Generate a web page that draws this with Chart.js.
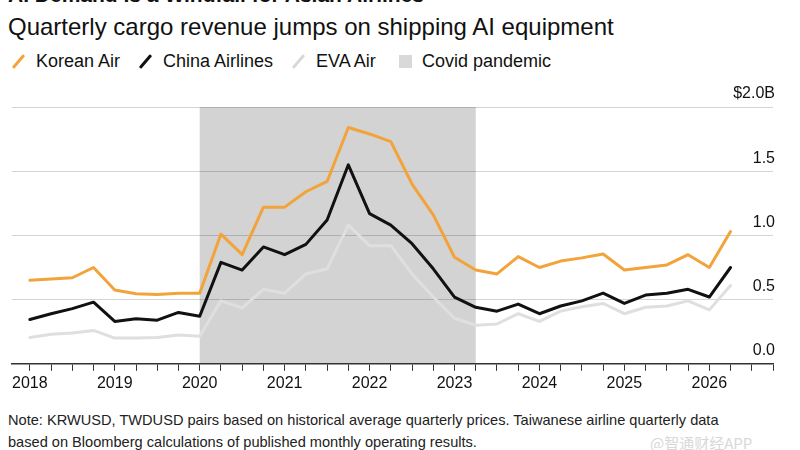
<!DOCTYPE html>
<html>
<head>
<meta charset="utf-8">
<script src="https://cdn.jsdelivr.net/npm/chart.js@4.4.1/dist/chart.umd.min.js"></script>
<style>
  html, body { margin: 0; padding: 0; background: #fff; }
  body { width: 800px; height: 450px; position: relative; overflow: hidden;
         font-family: "Liberation Sans", Arial, sans-serif; color: #111; }
  #title { position: absolute; left: 8px; top: -17px; font-size: 21px; font-weight: bold;
           line-height: 24px; white-space: nowrap; }
  #subtitle { position: absolute; left: 8px; top: 14px; font-size: 24px; line-height: 26px; white-space: nowrap; }
  .leg { position: absolute; top: 50px; font-size: 18px; line-height: 22px; white-space: nowrap; }
  .leg i { position: absolute; left: 0; top: 3px; width: 3px; height: 17px; border-radius: 1px;
           transform: rotate(41deg); transform-origin: center; }
  .leg span { position: absolute; left: 0; top: 0; }
  .leg b { position: absolute; left: 0; top: 5px; width: 13px; height: 13px; background: #d9d9d9; }
  #wrap { position: absolute; left: 0; top: 80px; width: 800px; height: 320px; }
  #note { position: absolute; left: 8px; top: 409px; font-size: 14.6px; line-height: 22px; color: #222; white-space: nowrap; }
  #mark { position: absolute; left: 650px; top: 432px; font-size: 15px; color: #d8d8d8;
          font-family: "Noto Sans CJK SC", sans-serif; }
</style>
</head>
<body>
<div id="title">AI Demand Is a Windfall for Asian Airlines</div>
<div id="subtitle">Quarterly cargo revenue jumps on shipping AI equipment</div>

<div class="leg" style="left:12px"><i style="background:#f2a33a;left:5px"></i><span style="left:24px">Korean Air</span></div>
<div class="leg" style="left:139px"><i style="background:#111;left:5px"></i><span style="left:24px">China Airlines</span></div>
<div class="leg" style="left:292px"><i style="background:#d8d8d8;left:5px"></i><span style="left:24px">EVA Air</span></div>
<div class="leg" style="left:399px"><b></b><span style="left:23px">Covid pandemic</span></div>

<div id="wrap"><canvas id="chart" width="800" height="320"></canvas></div>

<div id="note">Note: KRWUSD, TWDUSD pairs based on historical average quarterly prices. Taiwanese airline quarterly data<br>based on Bloomberg calculations of published monthly operating results.</div>
<div id="mark">@智通财经APP</div>

<script>
// DATA (quarterly cargo revenue, $B)
const quarters = [
  2018, 2018.25, 2018.5, 2018.75, 2019, 2019.25, 2019.5, 2019.75,
  2020, 2020.25, 2020.5, 2020.75, 2021, 2021.25, 2021.5, 2021.75,
  2022, 2022.25, 2022.5, 2022.75, 2023, 2023.25, 2023.5, 2023.75,
  2024, 2024.25, 2024.5, 2024.75, 2025, 2025.25, 2025.5, 2025.75,
  2026, 2026.25
];
const koreanAir = [
  0.65, 0.66, 0.67, 0.75, 0.575, 0.545, 0.54, 0.55,
  0.55, 1.01, 0.85, 1.22, 1.22, 1.34, 1.42, 1.84,
  1.79, 1.73, 1.40, 1.16, 0.83, 0.73, 0.70, 0.835,
  0.75, 0.80, 0.825, 0.855, 0.73, 0.75, 0.77, 0.85,
  0.75, 1.03
];
const chinaAirlines = [
  0.345, 0.39, 0.43, 0.48, 0.33, 0.35, 0.34, 0.40,
  0.37, 0.79, 0.73, 0.91, 0.85, 0.93, 1.12, 1.55,
  1.17, 1.08, 0.935, 0.74, 0.52, 0.44, 0.41, 0.465,
  0.39, 0.45, 0.49, 0.55, 0.47, 0.535, 0.55, 0.58,
  0.52, 0.75
];
const evaAir = [
  0.205, 0.23, 0.24, 0.26, 0.20, 0.20, 0.205, 0.225,
  0.215, 0.49, 0.435, 0.58, 0.55, 0.70, 0.74, 1.08,
  0.92, 0.92, 0.70, 0.52, 0.355, 0.30, 0.31, 0.39,
  0.33, 0.41, 0.445, 0.47, 0.39, 0.44, 0.45, 0.49,
  0.42, 0.61
];
const covidPeriod = [2020, 2023.25];
const years = [2018, 2019, 2020, 2021, 2022, 2023, 2024, 2025, 2026];
const yTicks = [0, 0.5, 1, 1.5, 2];
const yLabels = ["0.0", "0.5", "1.0", "1.5", "$2.0B"];

const toPoints = (vals) => quarters.map((q, i) => ({ x: q, y: vals[i] }));

// grey band behind the lines, drawn before grid so gridlines stay visible
const covidBand = {
  id: "covidBand",
  beforeDraw(chart) {
    const { ctx, chartArea, scales } = chart;
    const x0 = scales.x.getPixelForValue(covidPeriod[0]);
    const x1 = scales.x.getPixelForValue(covidPeriod[1]);
    ctx.save();
    ctx.fillStyle = "#d3d3d3";
    ctx.fillRect(x0, chartArea.top, x1 - x0, chartArea.bottom - chartArea.top);
    ctx.restore();
  },
};

const lineStyle = { pointRadius: 0, tension: 0, borderJoinStyle: "round", borderCapStyle: "round" };

new Chart(document.getElementById("chart"), {
  type: "line",
  data: {
    datasets: [
      { label: "EVA Air", data: toPoints(evaAir), borderColor: "#dfdfdf", borderWidth: 3, ...lineStyle },
      { label: "China Airlines", data: toPoints(chinaAirlines), borderColor: "#111111", borderWidth: 3, ...lineStyle },
      { label: "Korean Air", data: toPoints(koreanAir), borderColor: "#f2a33a", borderWidth: 3, ...lineStyle },
    ],
  },
  options: {
    responsive: false,
    animation: false,
    layout: { padding: { left: 12, right: 23, top: 27, bottom: 4 } },
    plugins: { legend: { display: false }, tooltip: { enabled: false } },
    scales: {
      x: {
        type: "linear",
        min: 2017.79,
        max: 2026.75,
        afterBuildTicks: (s) => {
          s.ticks = years.flatMap((y) => [y, y + 0.25, y + 0.5, y + 0.75]).map((v) => ({ value: v }));
        },
        ticks: {
          autoSkip: false,
          maxRotation: 0,
          padding: 3,
          color: "#111",
          font: { family: "Liberation Sans", size: 16 },
          callback: (v) => (Number.isInteger(v) ? String(v) : ""),
        },
        grid: { drawOnChartArea: false, drawTicks: true, tickLength: 7, color: "#333" },
        border: { display: true, color: "#333", width: 1.5 },
      },
      y: {
        position: "right",
        min: 0,
        max: 2,
        afterBuildTicks: (s) => {
          s.ticks = yTicks.map((v) => ({ value: v }));
        },
        ticks: {
          mirror: true,
          padding: 2,
          labelOffset: -13,
          color: "#111",
          font: { family: "Liberation Sans", size: 16 },
          callback: (v, i) => yLabels[i],
        },
        grid: { color: "rgba(0,0,0,0.17)", drawTicks: false, lineWidth: 1 },
        border: { display: false },
      },
    },
  },
  plugins: [covidBand],
});
</script>
</body>
</html>
